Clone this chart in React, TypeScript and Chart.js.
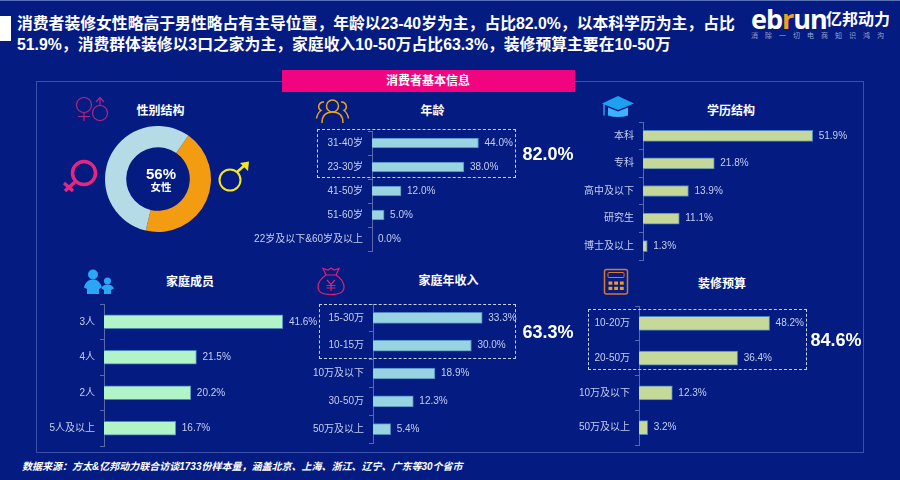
import React, { useEffect, useRef } from "react";
import { Chart, registerables } from "chart.js";

Chart.register(...registerables);

const FONT = "'Liberation Sans','Noto Sans CJK SC',sans-serif";
const BG = "#041b82";
const LABEL = "#c6cfee";
const AXIS = "#5a68a8";

const genderLabels = ["男性", "女性"];
const genderValues = [44, 56];

const ageLabels = ["31-40岁", "23-30岁", "41-50岁", "51-60岁", "22岁及以下&60岁及以上"];
const ageValues = [44.0, 38.0, 12.0, 5.0, 0.0];

const eduLabels = ["本科", "专科", "高中及以下", "研究生", "博士及以上"];
const eduValues = [51.9, 21.8, 13.9, 11.1, 1.3];

const familyLabels = ["3人", "4人", "2人", "5人及以上"];
const familyValues = [41.6, 21.5, 20.2, 16.7];

const incomeLabels = ["15-30万", "10-15万", "10万及以下", "30-50万", "50万及以上"];
const incomeValues = [33.3, 30.0, 18.9, 12.3, 5.4];

const budgetLabels = ["10-20万", "20-50万", "10万及以下", "50万及以上"];
const budgetValues = [48.2, 36.4, 12.3, 3.2];

const titleLine1 = "消费者装修女性略高于男性略占有主导位置，年龄以23-40岁为主，占比82.0%，以本科学历为主，占比";
const titleLine2 = "51.9%，消费群体装修以3口之家为主，家庭收入10-50万占比63.3%，装修预算主要在10-50万";
const footnote = "数据来源：方太&亿邦动力联合访谈1733份样本量，涵盖北京、上海、浙江、辽宁、广东等30个省市";

type BarProps = {
  labels: string[];
  values: number[];
  color: string;
  axisX: number;
  top: number;
  bottom: number;
  pxPerUnit: number;
  thickness: number;
};

const AXIS_W = 130;
const PLOT_W = 230;
const PAD = 8;

function BarPanel({ labels, values, color, axisX, top, bottom, pxPerUnit, thickness }: BarProps) {
  const ref = useRef<HTMLCanvasElement>(null);
  useEffect(() => {
    const chart = new Chart(ref.current!, {
      type: "bar",
      data: {
        labels,
        datasets: [
          {
            data: values,
            backgroundColor: color,
            borderColor: "#4d84bd",
            borderWidth: 1,
            barThickness: thickness,
          },
        ],
      },
      options: {
        indexAxis: "y",
        responsive: false,
        animation: false,
        devicePixelRatio: 1,
        layout: { padding: { top: PAD, bottom: PAD, left: 0, right: 0 } },
        plugins: { legend: { display: false }, tooltip: { enabled: false } },
        scales: {
          x: { display: false, min: 0, max: PLOT_W / pxPerUnit },
          y: {
            type: "category",
            offset: true,
            afterFit: (s: any) => {
              s.width = AXIS_W;
              s.paddingTop = 0;
              s.paddingBottom = 0;
            },
            border: { color: AXIS, width: 1 },
            grid: {
              offset: true,
              drawOnChartArea: false,
              drawTicks: true,
              tickLength: 4,
              tickColor: AXIS,
            },
            ticks: {
              autoSkip: false,
              padding: 5,
              color: LABEL,
              font: { family: FONT, size: 10 },
            },
          },
        },
      },
      plugins: [
        {
          id: "valueLabels",
          afterDatasetsDraw(c: any) {
            const g = c.ctx;
            g.save();
            g.font = `10px ${FONT}`;
            g.fillStyle = LABEL;
            g.textAlign = "left";
            g.textBaseline = "middle";
            c.getDatasetMeta(0).data.forEach((el: any, i: number) => {
              g.fillText(values[i].toFixed(1) + "%", el.x + 6, el.y);
            });
            g.restore();
          },
        },
      ],
    } as any);
    return () => chart.destroy();
  }, []);
  return (
    <canvas
      ref={ref}
      width={AXIS_W + PLOT_W}
      height={bottom - top + PAD * 2}
      style={{ position: "absolute", left: axisX - AXIS_W, top: top - PAD, display: "block" }}
    />
  );
}

function Donut() {
  const ref = useRef<HTMLCanvasElement>(null);
  useEffect(() => {
    const chart = new Chart(ref.current!, {
      type: "doughnut",
      data: {
        labels: genderLabels,
        datasets: [
          {
            data: genderValues,
            backgroundColor: ["#f39c12", "#b5dbe6"],
            borderWidth: 0,
          },
        ],
      },
      options: {
        responsive: false,
        animation: false,
        devicePixelRatio: 1,
        cutout: "60%",
        rotation: 35,
        layout: { padding: 1 },
        plugins: { legend: { display: false }, tooltip: { enabled: false } },
      },
    } as any);
    return () => chart.destroy();
  }, []);
  return (
    <canvas
      ref={ref}
      width={108}
      height={108}
      style={{ position: "absolute", left: 104, top: 125, display: "block" }}
    />
  );
}

function Txt({ x, y, size, bold, color, align, italic, children }: any) {
  const tx = align === "left" ? "0" : "-50%";
  return (
    <div
      style={{
        position: "absolute",
        left: x,
        top: y,
        transform: `translate(${tx},-50%)`,
        fontFamily: FONT,
        fontSize: size,
        fontWeight: bold ? 700 : 400,
        fontStyle: italic ? "italic" : "normal",
        color: color || "#fff",
        whiteSpace: "nowrap",
        lineHeight: 1,
      }}
    >
      {children}
    </div>
  );
}

function DashBox({ l, t, r, b }: any) {
  return (
    <div
      style={{
        position: "absolute",
        left: l,
        top: t,
        width: r - l,
        height: b - t,
        boxSizing: "border-box",
        border: "1px dashed #c8d2f2",
      }}
    />
  );
}

function Icons() {
  const pink = "#b5257f";
  const hot = "#e8267f";
  const yellow = "#f5e625";
  const orange = "#e8a020";
  const blue = "#1ea0f0";
  const bag = "#e0206f";
  const calc = "#d9772b";
  const calcKey = "#f39a1e";
  return (
    <svg width={900} height={480} style={{ position: "absolute", left: 0, top: 0 }} fill="none">
      <g stroke={pink} strokeWidth={1.2}>
        <circle cx={84} cy={105} r={7.5} />
        <path d="M84 112.5V121M78 116.5H90" />
        <circle cx={100} cy={113} r={7.5} />
        <path d="M100 105.5V98M96 102l4-4.5 4 4.5" />
      </g>
      <g stroke={hot} strokeWidth={3.5} strokeLinecap="butt">
        <circle cx={84} cy={173} r={11.5} />
        <path d="M76 181L65 191M64 183L73 191" />
      </g>
      <g stroke={yellow} strokeWidth={2}>
        <circle cx={230} cy={180} r={10.5} />
        <path d="M237 172L245 165" strokeWidth={2.5} />
      </g>
      <path d="M249 161.5L248 171L240 163Z" fill={yellow} />
      <g stroke={orange} strokeWidth={1.5}>
        <circle cx={332.5} cy={106} r={6} />
        <path d="M322 123c0-8 4-11 10.5-11s10.5 3 10.5 11" />
        <path d="M324 102a4.6 4.6 0 0 0-3 8.5c-3 2-4 5-4.5 8M341 102a4.6 4.6 0 0 1 3 8.5c3 2 4 5 4.5 8" />
      </g>
      <path d="M618 96L634 103.5L618 110L602 103.5Z" fill={blue} />
      <path d="M608 107.5L618 111.5L628 107.5V115.5Q618 118.5 608 115.5Z" fill="#3db2ff" />
      <path d="M604 104V115.5" stroke={blue} strokeWidth={1.5} />
      <g fill="#2aa6f5">
        <circle cx={93} cy={274.5} r={5} />
        <path d="M87 294V289L84 287.5C85 283 88 279.5 93 279.5S100.5 283 102 287.5L99 289V294Z" />
        <circle cx={107.5} cy={281} r={3.5} />
        <path d="M104 294V290L101.5 288.5C102 286 104.5 284.5 107.5 284.5S113 286 114 288.5L111 290V294Z" />
      </g>
      <g stroke={bag} strokeWidth={1.2}>
        <path d="M326 275C320 279 318 284 318 287C318 292 323 294.5 331 294.5S344 292 344 287C344 284 342 279 336 275Z" />
        <path d="M326 275L323 268.5L328 270L331 268L334 270L339 268.5L336 275" />
        <path d="M327 280L331 284.5L335 280M331 284.5V291M326.5 285.5H335.5M326.5 288H335.5" />
      </g>
      <rect x={604.5} y={269.5} width={23} height={24.5} rx={2} stroke={calc} strokeWidth={1.5} />
      <rect x={608} y={272.5} width={16} height={5} rx={1} stroke={calc} strokeWidth={1} />
      <g fill={calcKey}>
        {[0, 1, 2].map((c) =>
          [0, 1].map((r) => (
            <rect key={`${c}-${r}`} x={608.5 + c * 5.7} y={281.5 + r * 5.3} width={3.8} height={3.2} />
          ))
        )}
      </g>
    </svg>
  );
}

export default function App() {
  return (
    <div
      style={{
        position: "fixed",
        left: 0,
        top: 0,
        width: 900,
        height: 480,
        overflow: "hidden",
        background: BG,
      }}
    >
      <div style={{ position: "absolute", left: 0, top: 0, width: 900, height: 1, background: "#5a70b8" }} />
      <div style={{ position: "absolute", left: 0, top: 16, width: 11, height: 25, background: "#fff" }} />
      <Txt x={17} y={24} size={15.82} bold align="left">{titleLine1}</Txt>
      <Txt x={17} y={45} size={15.82} bold align="left">{titleLine2}</Txt>

      <div style={{ position: "absolute", left: 751, top: 4, fontFamily: "'Open Sans','Liberation Sans',sans-serif", fontWeight: 700, fontSize: 27, lineHeight: "30px", letterSpacing: -1, color: "#fff", whiteSpace: "nowrap" }}>
        eb<span style={{ color: "#f0a01d" }}>r</span>un
      </div>
      <Txt x={826} y={20} size={16} bold align="left">亿邦动力</Txt>
      <Txt x={821} y={35} size={7} color="#9aa6cf" >
        <span style={{ letterSpacing: 7 }}>消除一切电商知识鸿沟</span>
      </Txt>

      <div style={{ position: "absolute", left: 36, top: 81, width: 828, height: 372, boxSizing: "border-box", border: "1px solid #3a4fa8" }} />
      <div style={{ position: "absolute", left: 282, top: 70, width: 293, height: 22, background: "#f0047f" }} />
      <Txt x={428} y={81} size={12} bold>消费者基本信息</Txt>

      <Icons />

      <Txt x={160.5} y={111} size={12} bold>性别结构</Txt>
      <Txt x={432.5} y={111} size={12} bold>年龄</Txt>
      <Txt x={731} y={111} size={12} bold>学历结构</Txt>
      <Txt x={190} y={282} size={12} bold>家庭成员</Txt>
      <Txt x={448.5} y={281} size={12} bold>家庭年收入</Txt>
      <Txt x={722} y={284} size={12} bold>装修预算</Txt>

      <Donut />
      <Txt x={161} y={173} size={15} bold>56%</Txt>
      <Txt x={161} y={187} size={10.5} bold>女性</Txt>

      <BarPanel labels={ageLabels} values={ageValues} color="#9ad4e0" axisX={372} top={131} bottom={251} pxPerUnit={2.42} thickness={10} />
      <BarPanel labels={eduLabels} values={eduValues} color="#c6d79a" axisX={643} top={122} bottom={260} pxPerUnit={3.27} thickness={11} />
      <BarPanel labels={familyLabels} values={familyValues} color="#b0f4c8" axisX={104} top={304} bottom={446} pxPerUnit={4.3} thickness={14} />
      <BarPanel labels={incomeLabels} values={incomeValues} color="#97d3e0" axisX={373} top={304} bottom={443} pxPerUnit={3.28} thickness={11} />
      <BarPanel labels={budgetLabels} values={budgetValues} color="#c6d99a" axisX={639} top={306} bottom={445} pxPerUnit={2.71} thickness={14} />

      <DashBox l={317} t={129} r={516} b={178} />
      <DashBox l={319} t={304} r={516} b={359} />
      <DashBox l={588} t={309} r={807} b={370} />

      <Txt x={548} y={154} size={18} bold>82.0%</Txt>
      <Txt x={548} y={332} size={18} bold>63.3%</Txt>
      <Txt x={836} y={340} size={18} bold>84.6%</Txt>

      <Txt x={22} y={467} size={10} bold italic align="left">{footnote}</Txt>
    </div>
  );
}
